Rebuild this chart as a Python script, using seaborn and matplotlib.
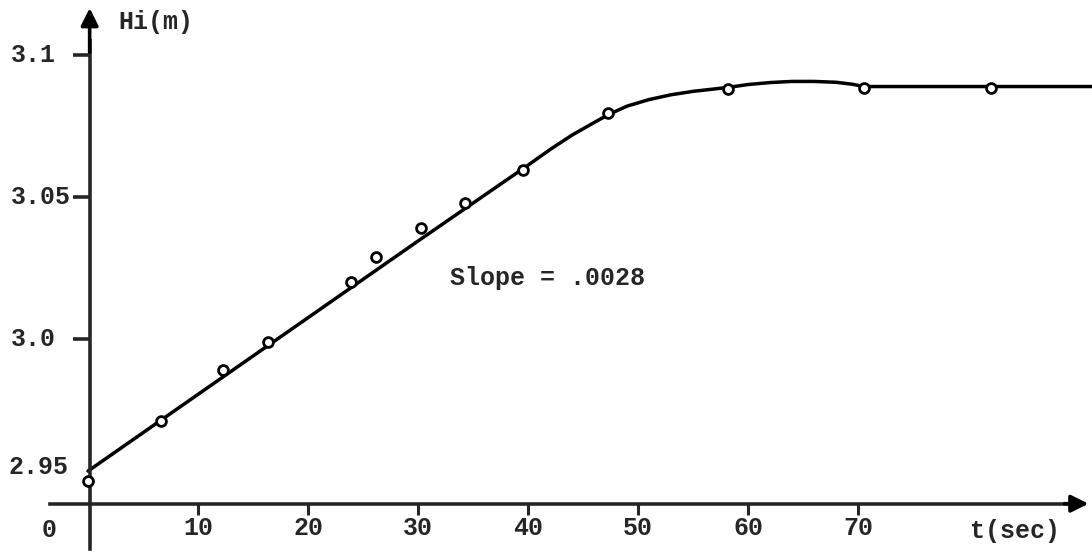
import numpy as np
import pandas as pd
import matplotlib
matplotlib.use("Agg")
import matplotlib.pyplot as plt
import seaborn as sns

t_points = [0, 6.6, 12.3, 16.4, 23.9, 26.2, 30.3, 34.3, 39.5, 47.3, 58.2, 70.5, 82.1]
hi_points = [2.950, 2.971, 2.989, 2.999, 3.020, 3.029, 3.039, 3.048, 3.0595, 3.0795, 3.0880, 3.0885, 3.0885]

# Hand-drawn fitted curve, read at several places along it
t_curve = [0, 10, 20, 30, 40, 42, 44, 46, 47.3, 49, 51, 53, 55, 58.2, 60, 62, 64, 66,
           68, 69.5, 70.5, 91.3]
hi_curve = [2.9535, 2.9805, 3.0075, 3.0345, 3.0612, 3.0667, 3.0718, 3.0762, 3.0790,
            3.0820, 3.0843, 3.0860, 3.0872, 3.0886, 3.0896, 3.0903, 3.0907, 3.0907,
            3.0904, 3.0897, 3.0889, 3.0889]

x_ticks = [10, 20, 30, 40, 50, 60, 70]
x_tick_labels = ["10", "20", "30", "40", "50", "60", "70"]
y_ticks = [3.0, 3.05, 3.1]
y_tick_labels = ["3.0", "3.05", "3.1"]

slope_text = "Slope = .0028"

sns.set_style("white")
plt.rcParams["font.family"] = ["Liberation Mono", "DejaVu Sans Mono"]
plt.rcParams["font.size"] = 18
plt.rcParams["font.weight"] = "bold"

fig = plt.figure(figsize=(10.92, 5.51), dpi=100)
ax = fig.add_axes([0, 0, 1, 1])

# pixel layout: t -> 88 + 11*t, Hi -> 339 - 2840*(Hi - 3.0)
x_min, x_max = -8.0, 91.27
y_min, y_max = 2.92535, 3.11937
x_axis_y = 2.942
y_axis_x = 0.15

points = pd.DataFrame({"t": t_points, "Hi": hi_points})
curve = pd.DataFrame({"t": t_curve, "Hi": hi_curve})

sns.lineplot(data=curve, x="t", y="Hi", ax=ax, color="black", lw=2.5,
             sort=False, zorder=2)
sns.scatterplot(data=points, x="t", y="Hi", ax=ax, s=50, marker="o",
                facecolor="white", edgecolor="black", linewidth=2.0, zorder=3)

ax.set_xlim(x_min, x_max)
ax.set_ylim(y_min, y_max)

# axes drawn like the sketch: spines through the origin, with arrows
for side in ["top", "right"]:
    ax.spines[side].set_visible(False)
ax.spines["left"].set_position(("data", y_axis_x))
ax.spines["bottom"].set_position(("data", x_axis_y))
ax.spines["left"].set_linewidth(2.6)
ax.spines["bottom"].set_linewidth(2.6)
ax.spines["left"].set_bounds(2.9262, 3.105)
ax.spines["bottom"].set_bounds(-3.5, 89.5)

ax.annotate("", xy=(y_axis_x, 3.1175), xytext=(y_axis_x, 3.100),
            arrowprops=dict(arrowstyle="-|>", lw=2.6, color="black", mutation_scale=26))
ax.annotate("", xy=(91.2, x_axis_y), xytext=(88.5, x_axis_y),
            arrowprops=dict(arrowstyle="-|>", lw=2.6, color="black", mutation_scale=26))

ax.set_xticks(x_ticks)
ax.set_xticklabels(x_tick_labels, fontweight="bold")
ax.set_yticks(y_ticks)
ax.set_yticklabels([])
ax.tick_params(axis="x", bottom=True, direction="out", length=8, width=2.2,
               pad=1, labelsize=18)
ax.tick_params(axis="y", left=True, direction="out", length=12, width=2.6)
ax.set_xlabel("")
ax.set_ylabel("")

# y labels in the sketch are written flush left
for val, lab in zip(y_ticks, y_tick_labels):
    ax.text(-7.0, val, lab, ha="left", va="center", fontsize=18, fontweight="bold")

# extra labels from the sketch
ax.text(-3.55, 2.9327, "0", ha="center", va="center", fontsize=18, fontweight="bold")
ax.text(-7.2, 2.955, "2.95", ha="left", va="center", fontsize=18, fontweight="bold")
ax.text(2.8, 3.1115, "Hi(m)", ha="left", va="center", fontsize=18, fontweight="bold")
ax.text(80.2, 2.9325, "t(sec)", ha="left", va="center", fontsize=18, fontweight="bold")
ax.text(32.9, 3.0215, slope_text, ha="left", va="center", fontsize=18, fontweight="bold")

fig.savefig("out.png", dpi=100)
